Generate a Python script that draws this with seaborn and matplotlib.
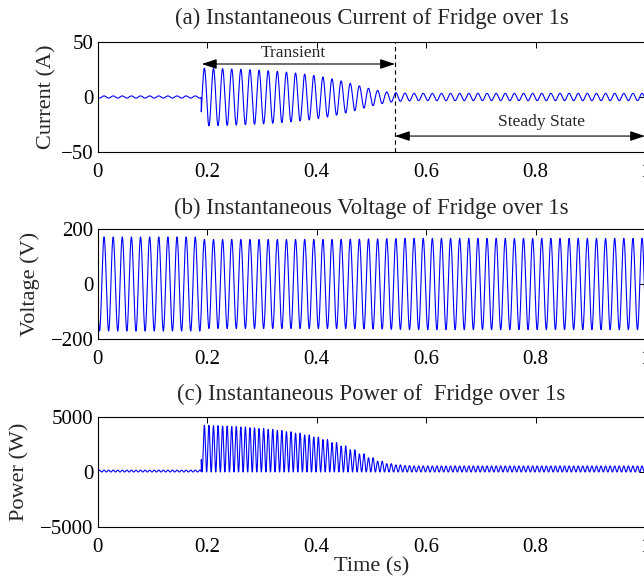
import numpy as np
import pandas as pd
import matplotlib
matplotlib.use("Agg")
import matplotlib.pyplot as plt
import seaborn as sns

# ---- measured fridge waveforms (60 Hz mains, 1 s record) ----
mains_hz = 60
rising_zero = 0.0071      # first rising zero crossing of the supply voltage (s)
switch_on = 0.189         # compressor start (s)
transient_end = 0.543     # end of inrush transient (s)

# peak current per mains cycle (A)
current_peaks = [
    1.0, 1.0, 1.0, 1.0, 1.0, 1.0, 1.0, 1.0, 1.0, 1.0,
    1.0, 26.2, 26.2, 26.0, 25.8, 25.5, 25.2, 24.8, 24.4, 23.9,
    23.3, 22.6, 21.8, 20.8, 19.6, 18.2, 16.5, 14.6, 12.4, 10.1,
    7.9, 6.0, 4.6, 3.9, 3.5, 3.3, 3.3, 3.3, 3.3, 3.3,
    3.3, 3.3, 3.3, 3.3, 3.3, 3.3, 3.3, 3.3, 3.3, 3.3,
    3.3, 3.3, 3.3, 3.3, 3.3, 3.3, 3.3, 3.3, 3.3, 3.3,
]

# peak supply voltage per mains cycle (V)
voltage_peaks = [
    171, 171, 171, 171, 171, 171, 171, 171, 171, 171,
    171, 162, 162, 162, 162, 162, 162, 162, 162, 162,
    162, 162, 162, 162, 162, 162, 162, 162, 163, 163,
    164, 164, 165, 165, 166, 166, 166, 166, 166, 166,
    166, 166, 166, 166, 166, 166, 166, 166, 166, 166,
    166, 166, 166, 166, 166, 166, 166, 166, 166, 166,
]

titles = [
    "(a) Instantaneous Current of Fridge over 1s",
    "(b) Instantaneous Voltage of Fridge over 1s",
    "(c) Instantaneous Power of  Fridge over 1s",
]
ylabels = ["Current (A)", "Voltage (V)", "Power (W)"]
ylims = [(-50, 50), (-200, 200), (-5000, 5000)]
yticks = [[-50, 0, 50], [-200, 0, 200], [-5000, 0, 5000]]
xticks = [0, 0.2, 0.4, 0.6, 0.8, 1.0]
xticklabels = ["0", "0.2", "0.4", "0.6", "0.8", "1"]

# ---- rebuild sampled signals from the per-cycle peaks ----
t = np.linspace(0, 1, 20001)
cycle = np.clip(np.floor((t - rising_zero) * mains_hz).astype(int) + 1, 0, 59)
carrier = np.sin(2 * np.pi * mains_hz * (t - rising_zero))

i_env = np.asarray(current_peaks, float)[cycle]
v_env = np.asarray(voltage_peaks, float)[cycle]
i_env[t < switch_on] = current_peaks[0]
v_env[t < switch_on] = voltage_peaks[0]

current = i_env * carrier
voltage = v_env * carrier
power = voltage * current

df = pd.DataFrame({"t": t, "current": current, "voltage": voltage, "power": power})

# ---- figure ----
sns.set_style("white")
plt.rcParams["font.family"] = ["Liberation Serif", "DejaVu Serif"]
plt.rcParams["axes.unicode_minus"] = True

fig = plt.figure(figsize=(6.44, 5.76), dpi=100)
W, H = 644, 576
left_px, right_px = 97.9, 645.0
tops = [42, 229, 417]
bottoms = [152, 339, 527]
title_pads = [13, 11, 12.5]
label_pads = [3.5, 8, 8]

axes = []
for top, bot in zip(tops, bottoms):
    ax = fig.add_axes([left_px / W, 1 - bot / H, (right_px - left_px) / W, (bot - top) / H])
    axes.append(ax)

for ax, col, title, ylab, ylim, yt, tpad, lpad in zip(
        axes, ["current", "voltage", "power"], titles, ylabels, ylims, yticks,
        title_pads, label_pads):
    sns.lineplot(data=df, x="t", y=col, ax=ax, color=(0, 0, 1), linewidth=0.8,
                 estimator=None, sort=False)
    ax.set_xlim(0, 1)
    ax.set_ylim(*ylim)
    ax.set_yticks(yt)
    ax.set_xticks(xticks)
    ax.set_xticklabels(xticklabels)
    ax.tick_params(direction="in", top=True, right=True, length=4, width=0.7,
                   labelsize=15, pad=3, colors="black")
    ax.tick_params(axis="x", pad=8)
    for s in ax.spines.values():
        s.set_linewidth(0.8)
        s.set_color("black")
    ax.set_title(title, fontsize=16.4, pad=tpad)
    ax.set_ylabel(ylab, fontsize=16, labelpad=lpad)
    ax.set_xlabel("")

axes[2].set_xlabel("Time (s)", fontsize=16, labelpad=0)

# transient / steady-state markers on the current panel
ax = axes[0]
ax.axvline(transient_end, color="black", linestyle=(0, (4, 3)), linewidth=0.8)
arrow = dict(arrowstyle="<|-|>,head_length=0.9,head_width=0.3", color="black",
             lw=0.8, shrinkA=0, shrinkB=0)
ax.annotate("", xy=(transient_end, 30), xytext=(0.19, 30), arrowprops=arrow)
ax.text(0.357, 40, "Transient", ha="center", va="center", fontsize=12.5)
ax.annotate("", xy=(1.0, -35.5), xytext=(transient_end, -35.5), arrowprops=arrow,
            annotation_clip=False)
ax.text(0.811, -23, "Steady State", ha="center", va="center", fontsize=12.5)

fig.savefig("out.png", dpi=100)
